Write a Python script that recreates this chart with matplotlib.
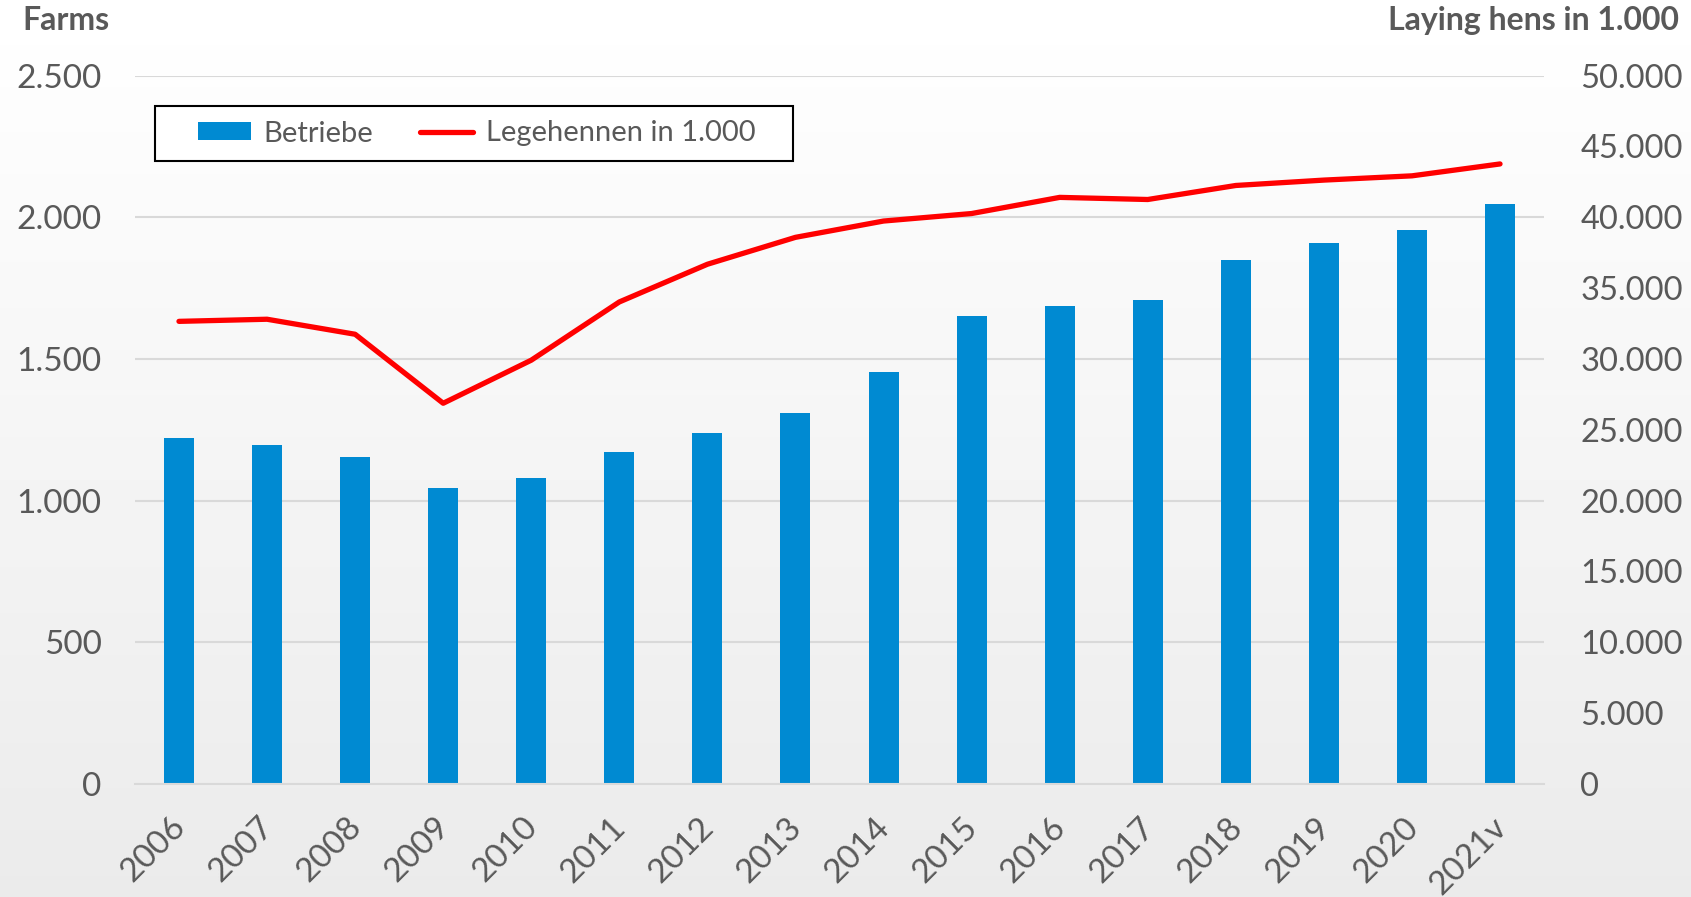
import numpy as np
import matplotlib
matplotlib.use("Agg")
import matplotlib.pyplot as plt
import matplotlib.transforms as mtransforms
from matplotlib.ticker import FuncFormatter, MultipleLocator
from matplotlib.patches import Patch, Rectangle
from matplotlib.lines import Line2D

plt.rcParams['font.family'] = ['Lato', 'DejaVu Sans']

# Data
years = ['2006', '2007', '2008', '2009', '2010', '2011', '2012', '2013',
         '2014', '2015', '2016', '2017', '2018', '2019', '2020', '2021v']
farms = [1221, 1195, 1153, 1046, 1081, 1172, 1237, 1309,
         1454, 1651, 1686, 1708, 1849, 1910, 1956, 2047]
hens = [32650, 32800, 31740, 26870, 29910, 34020, 36680, 38580,
        39730, 40260, 41400, 41250, 42240, 42620, 42920, 43760]

TEXT = '#595959'
BAR = '#008AD2'
GRID = '#D9D9D9'
W, H = 1691, 897


def de_thousands(v, pos):
    return f'{int(round(v)):,}'.replace(',', '.')


fig = plt.figure(figsize=(W / 100, H / 100), dpi=100)

# background gradient (white at top -> light gray at bottom)
bg = fig.add_axes([0, 0, 1, 1], zorder=-10)
grad = np.linspace(1.0, 0.92, 256).reshape(-1, 1)
bg.imshow(grad, aspect='auto', cmap='gray', vmin=0, vmax=1, extent=[0, 1, 0, 1])
bg.axis('off')

ax = fig.add_axes([0.0798, 0.126, 0.8333, 0.7898])
ax.patch.set_alpha(0)
x = np.arange(len(years))
ax.bar(x, farms, width=0.34, color=BAR, zorder=2)
ax.set_xlim(-0.5, len(years) - 0.5)
ax.set_ylim(0, 2500)
ax.yaxis.set_major_locator(MultipleLocator(500))
ax.yaxis.set_major_formatter(FuncFormatter(de_thousands))
ax.grid(axis='y', color=GRID, linewidth=1.5, zorder=0)
ax.set_axisbelow(True)
for s in ['top', 'right', 'left']:
    ax.spines[s].set_visible(False)
ax.spines['bottom'].set_color(GRID)
ax.spines['bottom'].set_linewidth(1.5)
ax.tick_params(axis='both', length=0, colors=TEXT, labelsize=24)
ax.tick_params(axis='y', pad=24)
ax.set_xticks(x)
ax.set_xticklabels(years, rotation=45, ha='right', rotation_mode='anchor')
ax.tick_params(axis='x', pad=20)
shift = mtransforms.ScaledTranslation(-9 / 100, 0, fig.dpi_scale_trans)
for lab in ax.get_xticklabels():
    lab.set_transform(lab.get_transform() + shift)

ax2 = ax.twinx()
ax2.plot(x, hens, color='#FF0000', linewidth=3.8, solid_capstyle='round', zorder=3)
ax2.set_ylim(0, 50000)
ax2.yaxis.set_major_locator(MultipleLocator(5000))
ax2.yaxis.set_major_formatter(FuncFormatter(de_thousands))
for s in ax2.spines.values():
    s.set_visible(False)
ax2.tick_params(axis='y', length=0, colors=TEXT, labelsize=23.5, pad=26)

fig.text(22 / W, 0.993, 'Farms', color=TEXT, fontsize=23, fontweight='bold',
         ha='left', va='top')
fig.text(1679 / W, 0.993, 'Laying hens in 1.000', color=TEXT, fontsize=23,
         fontweight='bold', ha='right', va='top')

# legend frame drawn by hand so the side padding matches
fig.patches.append(Rectangle((155 / W, 1 - 161 / H), (793 - 155) / W, 55 / H,
                             transform=fig.transFigure, facecolor='white',
                             edgecolor='black', linewidth=1.5, zorder=5))
handles = [Patch(facecolor=BAR, edgecolor='none'),
           Line2D([0], [0], color='#FF0000', linewidth=3.8, solid_capstyle='round')]
leg = fig.legend(handles, ['Betriebe', 'Legehennen in 1.000'], ncol=2,
                 loc='center left', bbox_to_anchor=(198 / W, 1 - 133.5 / H),
                 bbox_transform=fig.transFigure, fontsize=21, frameon=False,
                 handlelength=1.8, handleheight=0.6, columnspacing=1.6,
                 borderpad=0, borderaxespad=0, handletextpad=0.45)
leg.set_zorder(6)
for t in leg.get_texts():
    t.set_color(TEXT)

fig.savefig('out.png', dpi=100)
